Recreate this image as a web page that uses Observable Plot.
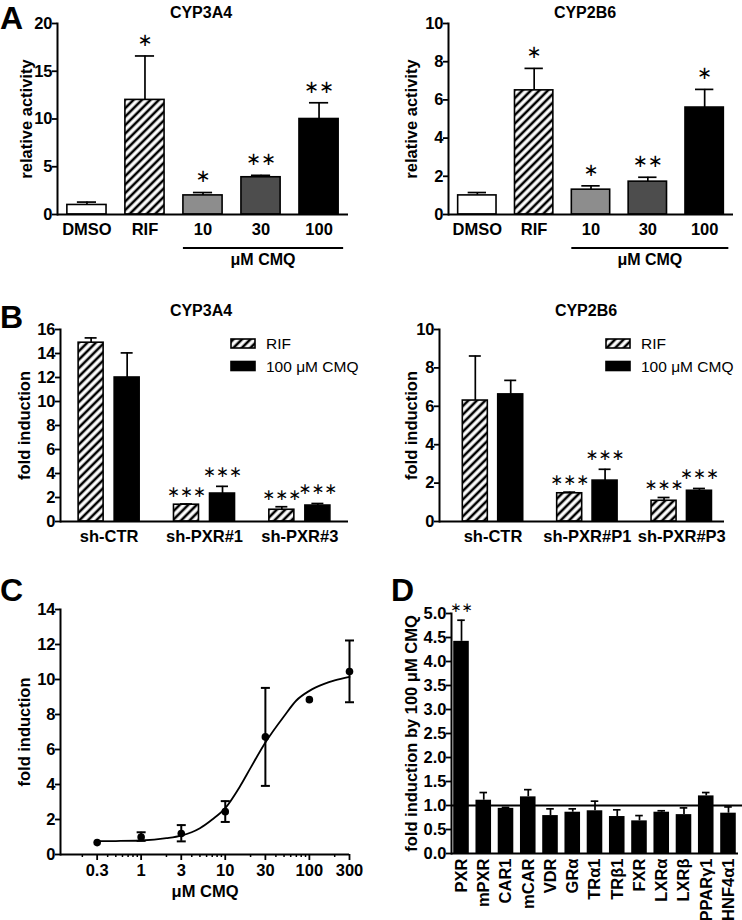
<!DOCTYPE html>
<html>
<head>
<meta charset="utf-8">
<script src="https://cdn.jsdelivr.net/npm/d3@7"></script>
<script src="https://cdn.jsdelivr.net/npm/@observablehq/plot@0.6"></script>
<style>
html,body{margin:0;padding:0;background:#fff;}
#fig{position:relative;width:742px;height:920px;overflow:hidden;background:#fff;}
</style>
</head>
<body>
<div id="fig"></div>
<script>
// ---------------- DATA ----------------
// Panel A
const aCats = ["DMSO", "RIF", "10", "30", "100"];
const a3a4Vals = [1.0, 12.0, 2.0, 3.9, 10.0];
const a3a4Err = [1.3, 16.6, 2.3, 4.1, 11.7];
const a3a4Stars = ["", "∗", "∗", "∗∗", "∗∗"];
const a2b6Vals = [1.0, 6.5, 1.3, 1.72, 5.6];
const a2b6Err = [1.15, 7.65, 1.5, 1.95, 6.55];
const a2b6Stars = ["", "∗", "∗", "∗∗", "∗"];
const aTicks3a4 = [0, 5, 10, 15, 20];
const aTicks2b6 = [0, 2, 4, 6, 8, 10];
const cmqLabel = "μM CMQ";

// Panel B
const bSeries = ["RIF", "100 μM CMQ"];
const b3a4Groups = ["sh-CTR", "sh-PXR#1", "sh-PXR#3"];
const b3a4Rif = [14.9, 1.4, 0.98];
const b3a4RifErr = [15.3, 1.46, 1.23];
const b3a4Cmq = [12.0, 2.33, 1.33];
const b3a4CmqErr = [14.05, 2.93, 1.5];
const b3a4StarsRif = ["", "∗∗∗", "∗∗∗"];
const b3a4StarsCmq = ["", "∗∗∗", "∗∗∗"];
const b2b6Groups = ["sh-CTR", "sh-PXR#P1", "sh-PXR#P3"];
const b2b6Rif = [6.3, 1.47, 1.08];
const b2b6RifErr = [8.62, 1.53, 1.25];
const b2b6Cmq = [6.62, 2.13, 1.6];
const b2b6CmqErr = [7.35, 2.72, 1.72];
const b2b6StarsRif = ["", "∗∗∗", "∗∗∗"];
const b2b6StarsCmq = ["", "∗∗∗", "∗∗∗"];
const bTicks3a4 = [0, 2, 4, 6, 8, 10, 12, 14, 16];
const bTicks2b6 = [0, 2, 4, 6, 8, 10];

// Panel C
const cDose = [0.3, 1, 3, 10, 30, 100, 300];
const cMean = [0.68, 1.0, 1.2, 2.45, 6.72, 8.85, 10.46];
const cLow = [null, 0.78, 0.75, 1.86, 3.92, null, 8.7];
const cHigh = [null, 1.27, 1.68, 3.05, 9.52, null, 12.23];
const cFitX = [0.3, 0.5, 1, 2, 3, 5, 7, 10, 15, 20, 30, 50, 70, 100, 150, 200, 300];
const cFitY = [0.76, 0.77, 0.80, 0.93, 1.08, 1.5, 2.0, 2.65, 3.9, 4.95, 6.4, 7.9, 8.8, 9.35, 9.75, 9.95, 10.15];
const cTicks = [0.3, 1, 3, 10, 30, 100, 300];
const cMinorTicks = [0.2, 0.4, 0.5, 0.6, 0.7, 0.8, 0.9, 2, 4, 5, 6, 7, 8, 9, 20, 40, 50, 60, 70, 80, 90, 200];
const cYTicks = [0, 2, 4, 6, 8, 10, 12, 14];

// Panel D
const dCats = ["PXR", "mPXR", "CAR1", "mCAR", "VDR", "GRα", "TRα1", "TRβ1", "FXR", "LXRα", "LXRβ", "PPARγ1", "HNF4α1"];
const dVals = [4.42, 1.11, 0.94, 1.18, 0.79, 0.86, 0.89, 0.77, 0.68, 0.86, 0.81, 1.2, 0.84];
const dErr = [4.86, 1.27, 0.96, 1.33, 0.93, 0.93, 1.09, 0.91, 0.79, 0.89, 0.95, 1.27, 0.97];
const dStars = ["∗∗", "", "", "", "", "", "", "", "", "", "", "", ""];
const dTicks = [0, 0.5, 1, 1.5, 2, 2.5, 3, 3.5, 4, 4.5, 5];
const dRef = [1];

// styles
const aFills = ["white", "url(#hatch)", "#8d8d8d", "#4d4d4d", "black"];
const FONT = "'Liberation Sans', Arial, Helvetica, sans-serif";
const STAR_FONT = "'DejaVu Sans', sans-serif";

// ---------------- SETUP ----------------
const fig = document.getElementById("fig");
const defsSvg = d3.select(fig).append("svg").attr("width", 0).attr("height", 0)
  .style("position", "absolute").style("left", "0px").style("top", "0px");
const pat = defsSvg.append("defs").append("pattern").attr("id", "hatch")
  .attr("patternUnits", "userSpaceOnUse").attr("width", 6).attr("height", 6)
  .attr("patternTransform", "rotate(45)");
pat.append("rect").attr("width", 6).attr("height", 6).attr("fill", "white");
pat.append("line").attr("x1", 3).attr("y1", -1).attr("x2", 3).attr("y2", 7)
  .attr("stroke", "black").attr("stroke-width", 2.6);

function place(node, left, top) {
  node.style.position = "absolute";
  node.style.left = left + "px";
  node.style.top = top + "px";
  fig.appendChild(node);
  return node;
}
const baseStyle = {fontFamily: FONT, background: "none", overflow: "visible", color: "black"};
const tickFont = {fontSize: 16.5, fontWeight: "bold"};
const yAxisStyle = {tickSize: 5, tickPadding: 0, strokeWidth: 1.8, label: null, ...tickFont};

function yLabelAxis(label, offset) {
  return Plot.axisY({ticks: [], tickSize: 0, label, labelAnchor: "center", labelOffset: offset,
    labelArrow: "none", fontSize: 16.5, fontWeight: "bold"});
}

// ---------------- PANEL A ----------------
function panelA(vals, errs, stars, yMax, yTicks, left, ml, mr, labelOffset) {
  const W = 371, H = 275, base = 214;
  const data = aCats.map((c, i) => ({c, v: vals[i], e: errs[i], s: stars[i], f: aFills[i]}));
  const chart = Plot.plot({
    width: W, height: H, marginLeft: ml, marginRight: mr, marginTop: 23, marginBottom: H - base,
    x: {domain: aCats, paddingInner: 0.325, paddingOuter: 0.17, round: false},
    y: {domain: [0, yMax]},
    color: {type: "identity"},
    style: baseStyle,
    marks: [
      Plot.ruleX(data, {x: "c", y1: "v", y2: "e", strokeWidth: 1.7}),
      Plot.tickY(data, {x: "c", y: "e", strokeWidth: 1.7, insetLeft: 10, insetRight: 10}),
      Plot.barY(data, {x: "c", y: "v", fill: "f", stroke: "black", strokeWidth: 1.6}),
      Plot.text(data, {x: "c", y: "e", text: "s", dy: -16, fontSize: 18, fill: "black", fontFamily: STAR_FONT}),
      Plot.axisY({ticks: yTicks, ...yAxisStyle}),
      yLabelAxis("relative activity", labelOffset),
      Plot.axisX({tickSize: 0, tickPadding: 9, label: null, ...tickFont}),
      Plot.ruleY([0], {strokeWidth: 2}),
      Plot.frame({anchor: "left", strokeWidth: 2})
    ]
  });
  const xs = chart.scale("x");
  const bx1 = xs.apply("10"), bx2 = xs.apply("100") + xs.bandwidth + 5;
  const g = d3.select(chart).append("g");
  g.append("line").attr("x1", bx1).attr("x2", bx2).attr("y1", base + 34).attr("y2", base + 34)
    .attr("stroke", "black").attr("stroke-width", 2.2);
  g.append("text").attr("x", (bx1 + bx2) / 2).attr("y", base + 51).attr("text-anchor", "middle")
    .attr("font-weight", "bold").attr("font-size", 16).attr("font-family", FONT).text(cmqLabel);
  place(chart, left, 0);
}

// ---------------- PANEL B ----------------
function panelB(groups, rif, rifE, cmq, cmqE, sR, sC, yMax, yTicks, left, ml, mr, align, labelOffset) {
  const W = 371, H = 270, top = 290, base = 231;
  const pi = 0.36, po = 0.19;
  const fw = W - ml - mr;
  const step = fw / (groups.length - pi + 2 * po);
  const bw = step * (1 - pi);
  const barW = 25, capW = 12;
  const off = bw / 2 - barW / 2;
  const R = groups.map((g, i) => ({g, v: rif[i], e: rifE[i], s: sR[i]}));
  const C = groups.map((g, i) => ({g, v: cmq[i], e: cmqE[i], s: sC[i]}));
  const chart = Plot.plot({
    width: W, height: H, marginLeft: ml, marginRight: mr, marginTop: 39, marginBottom: H - base,
    x: {domain: groups, paddingInner: pi, paddingOuter: po, align, round: false},
    y: {domain: [0, yMax]},
    style: baseStyle,
    marks: [
      Plot.ruleX(R, {x: "g", y1: "v", y2: "e", dx: -off, strokeWidth: 1.7}),
      Plot.ruleX(C, {x: "g", y1: "v", y2: "e", dx: off, strokeWidth: 1.7}),
      Plot.tickY(R, {x: "g", y: "e", insetLeft: barW / 2 - capW / 2, insetRight: bw - barW / 2 - capW / 2, strokeWidth: 1.7}),
      Plot.tickY(C, {x: "g", y: "e", insetLeft: bw - barW / 2 - capW / 2, insetRight: barW / 2 - capW / 2, strokeWidth: 1.7}),
      Plot.barY(R, {x: "g", y: "v", fill: "url(#hatch)", stroke: "black", strokeWidth: 1.6, insetRight: bw - barW}),
      Plot.barY(C, {x: "g", y: "v", fill: "black", stroke: "black", strokeWidth: 1.6, insetLeft: bw - barW}),
      Plot.text(R, {x: "g", y: "e", text: "s", dx: -off, dy: -12, fontSize: 15.5, fill: "black", fontFamily: STAR_FONT}),
      Plot.text(C, {x: "g", y: "e", text: "s", dx: off, dy: -14, fontSize: 15.5, fill: "black", fontFamily: STAR_FONT}),
      Plot.axisY({ticks: yTicks, ...yAxisStyle}),
      yLabelAxis("fold induction", labelOffset),
      Plot.axisX({tickSize: 0, tickPadding: 9, label: null, ...tickFont}),
      Plot.ruleY([0], {strokeWidth: 2}),
      Plot.frame({anchor: "left", strokeWidth: 2})
    ]
  });
  place(chart, left, top);
}

// ---------------- PANEL C ----------------
function panelC() {
  const W = 371, H = 345, top = 575;
  const pts = cDose.map((d, i) => ({d, m: cMean[i], lo: cLow[i], hi: cHigh[i]}));
  const eb = pts.filter(p => p.lo != null);
  const fit = cFitX.map((d, i) => ({d, y: cFitY[i]}));
  const cap = {draw(ctx, size) { const r = Math.sqrt(size / Math.PI); ctx.moveTo(-r, 0); ctx.lineTo(r, 0); }};
  const chart = Plot.plot({
    width: W, height: H, marginLeft: 60, marginRight: 22, marginTop: 34, marginBottom: 66,
    x: {type: "log", domain: [0.11, 300]},
    y: {domain: [0, 14]},
    style: baseStyle,
    marks: [
      Plot.line(fit, {x: "d", y: "y", curve: "monotone-x", strokeWidth: 1.8}),
      Plot.ruleX(eb, {x: "d", y1: "lo", y2: "hi", strokeWidth: 2}),
      Plot.dot(eb, {x: "d", y: "hi", symbol: cap, r: 4.5, stroke: "black", strokeWidth: 2}),
      Plot.dot(eb, {x: "d", y: "lo", symbol: cap, r: 4.5, stroke: "black", strokeWidth: 2}),
      Plot.dot(pts, {x: "d", y: "m", r: 3.8, fill: "black"}),
      Plot.axisY({ticks: cYTicks, ...yAxisStyle}),
      yLabelAxis("fold induction", 42),
      Plot.axisX({ticks: cTicks, tickFormat: d => String(d), tickSize: 6, tickPadding: 4, strokeWidth: 1.8,
        label: cmqLabel, labelAnchor: "center", labelOffset: 42, labelArrow: "none", ...tickFont}),
      Plot.axisX({ticks: cMinorTicks, tickFormat: () => "", tickSize: 3, strokeWidth: 1.5, label: null}),
      Plot.ruleY([0], {strokeWidth: 2}),
      Plot.frame({anchor: "left", strokeWidth: 2})
    ]
  });
  place(chart, 0, top);
}

// ---------------- PANEL D ----------------
function panelD() {
  const W = 371, H = 345, top = 575;
  const data = dCats.map((c, i) => ({c, v: dVals[i], e: dErr[i], s: dStars[i]}));
  const chart = Plot.plot({
    width: W, height: H, marginLeft: 80, marginRight: 4, marginTop: 38, marginBottom: 67,
    x: {domain: dCats, paddingInner: 0.3, paddingOuter: 0.1, round: false},
    y: {domain: [0, 5]},
    style: baseStyle,
    marks: [
      Plot.ruleX(data, {x: "c", y1: "v", y2: "e", strokeWidth: 1.7}),
      Plot.tickY(data, {x: "c", y: "e", insetLeft: 4, insetRight: 4, strokeWidth: 1.7}),
      Plot.barY(data, {x: "c", y: "v", fill: "black"}),
      Plot.ruleY(dRef, {strokeWidth: 2, insetRight: -4}),
      Plot.text(data, {x: "c", y: "e", text: "s", dy: -13, fontSize: 13.5, fill: "black", fontFamily: STAR_FONT}),
      Plot.axisY({ticks: dTicks, tickFormat: d3.format(".1f"), ...yAxisStyle}),
      yLabelAxis("fold induction by 100 μM CMQ", 46),
      Plot.axisX({tickRotate: -90, tickSize: 0, tickPadding: 5, label: null, ...tickFont}),
      Plot.ruleY([0], {strokeWidth: 2}),
      Plot.frame({anchor: "left", strokeWidth: 2})
    ]
  });
  place(chart, 371, top);
}

panelA(a3a4Vals, a3a4Err, a3a4Stars, 20, aTicks3a4, 0, 57, 23, 37);
panelA(a2b6Vals, a2b6Err, a2b6Stars, 10, aTicks2b6, 371, 77, 9, 43);
panelB(b3a4Groups, b3a4Rif, b3a4RifErr, b3a4Cmq, b3a4CmqErr, b3a4StarsRif, b3a4StarsCmq, 16, bTicks3a4, 0, 60, 23, 0.5, 42);
panelB(b2b6Groups, b2b6Rif, b2b6RifErr, b2b6Cmq, b2b6CmqErr, b2b6StarsRif, b2b6StarsCmq, 10, bTicks2b6, 371, 68, 18, 0.65, 34);
panelC();
panelD();

// ---------------- OVERLAY: panel letters, titles, legends ----------------
const ov = d3.select(fig).append("svg").attr("width", 742).attr("height", 920)
  .style("position", "absolute").style("left", "0px").style("top", "0px")
  .attr("font-family", FONT);
function letter(t, x, y) {
  ov.append("text").attr("x", x).attr("y", y).attr("font-size", 32).attr("font-weight", "bold").text(t);
}
letter("A", 0, 29); letter("B", 0, 328); letter("C", 0, 601); letter("D", 391, 601);
function title(t, x, y) {
  ov.append("text").attr("x", x).attr("y", y).attr("text-anchor", "middle")
    .attr("font-size", 16).attr("font-weight", "bold").text(t);
}
title("CYP3A4", 201, 18); title("CYP2B6", 585, 18); title("CYP3A4", 201, 316); title("CYP2B6", 586, 316);
function legend(x, y) {
  const fills = ["url(#hatch)", "black"];
  bSeries.forEach((s, i) => {
    const yy = y + i * 22.5;
    ov.append("rect").attr("x", x).attr("y", yy).attr("width", 24).attr("height", 9)
      .attr("fill", fills[i]).attr("stroke", "black").attr("stroke-width", 1.6);
    ov.append("text").attr("x", x + 35).attr("y", yy + 10).attr("font-size", 15.5).text(s);
  });
}
legend(231, 339); legend(606, 339);
</script>
</body>
</html>
